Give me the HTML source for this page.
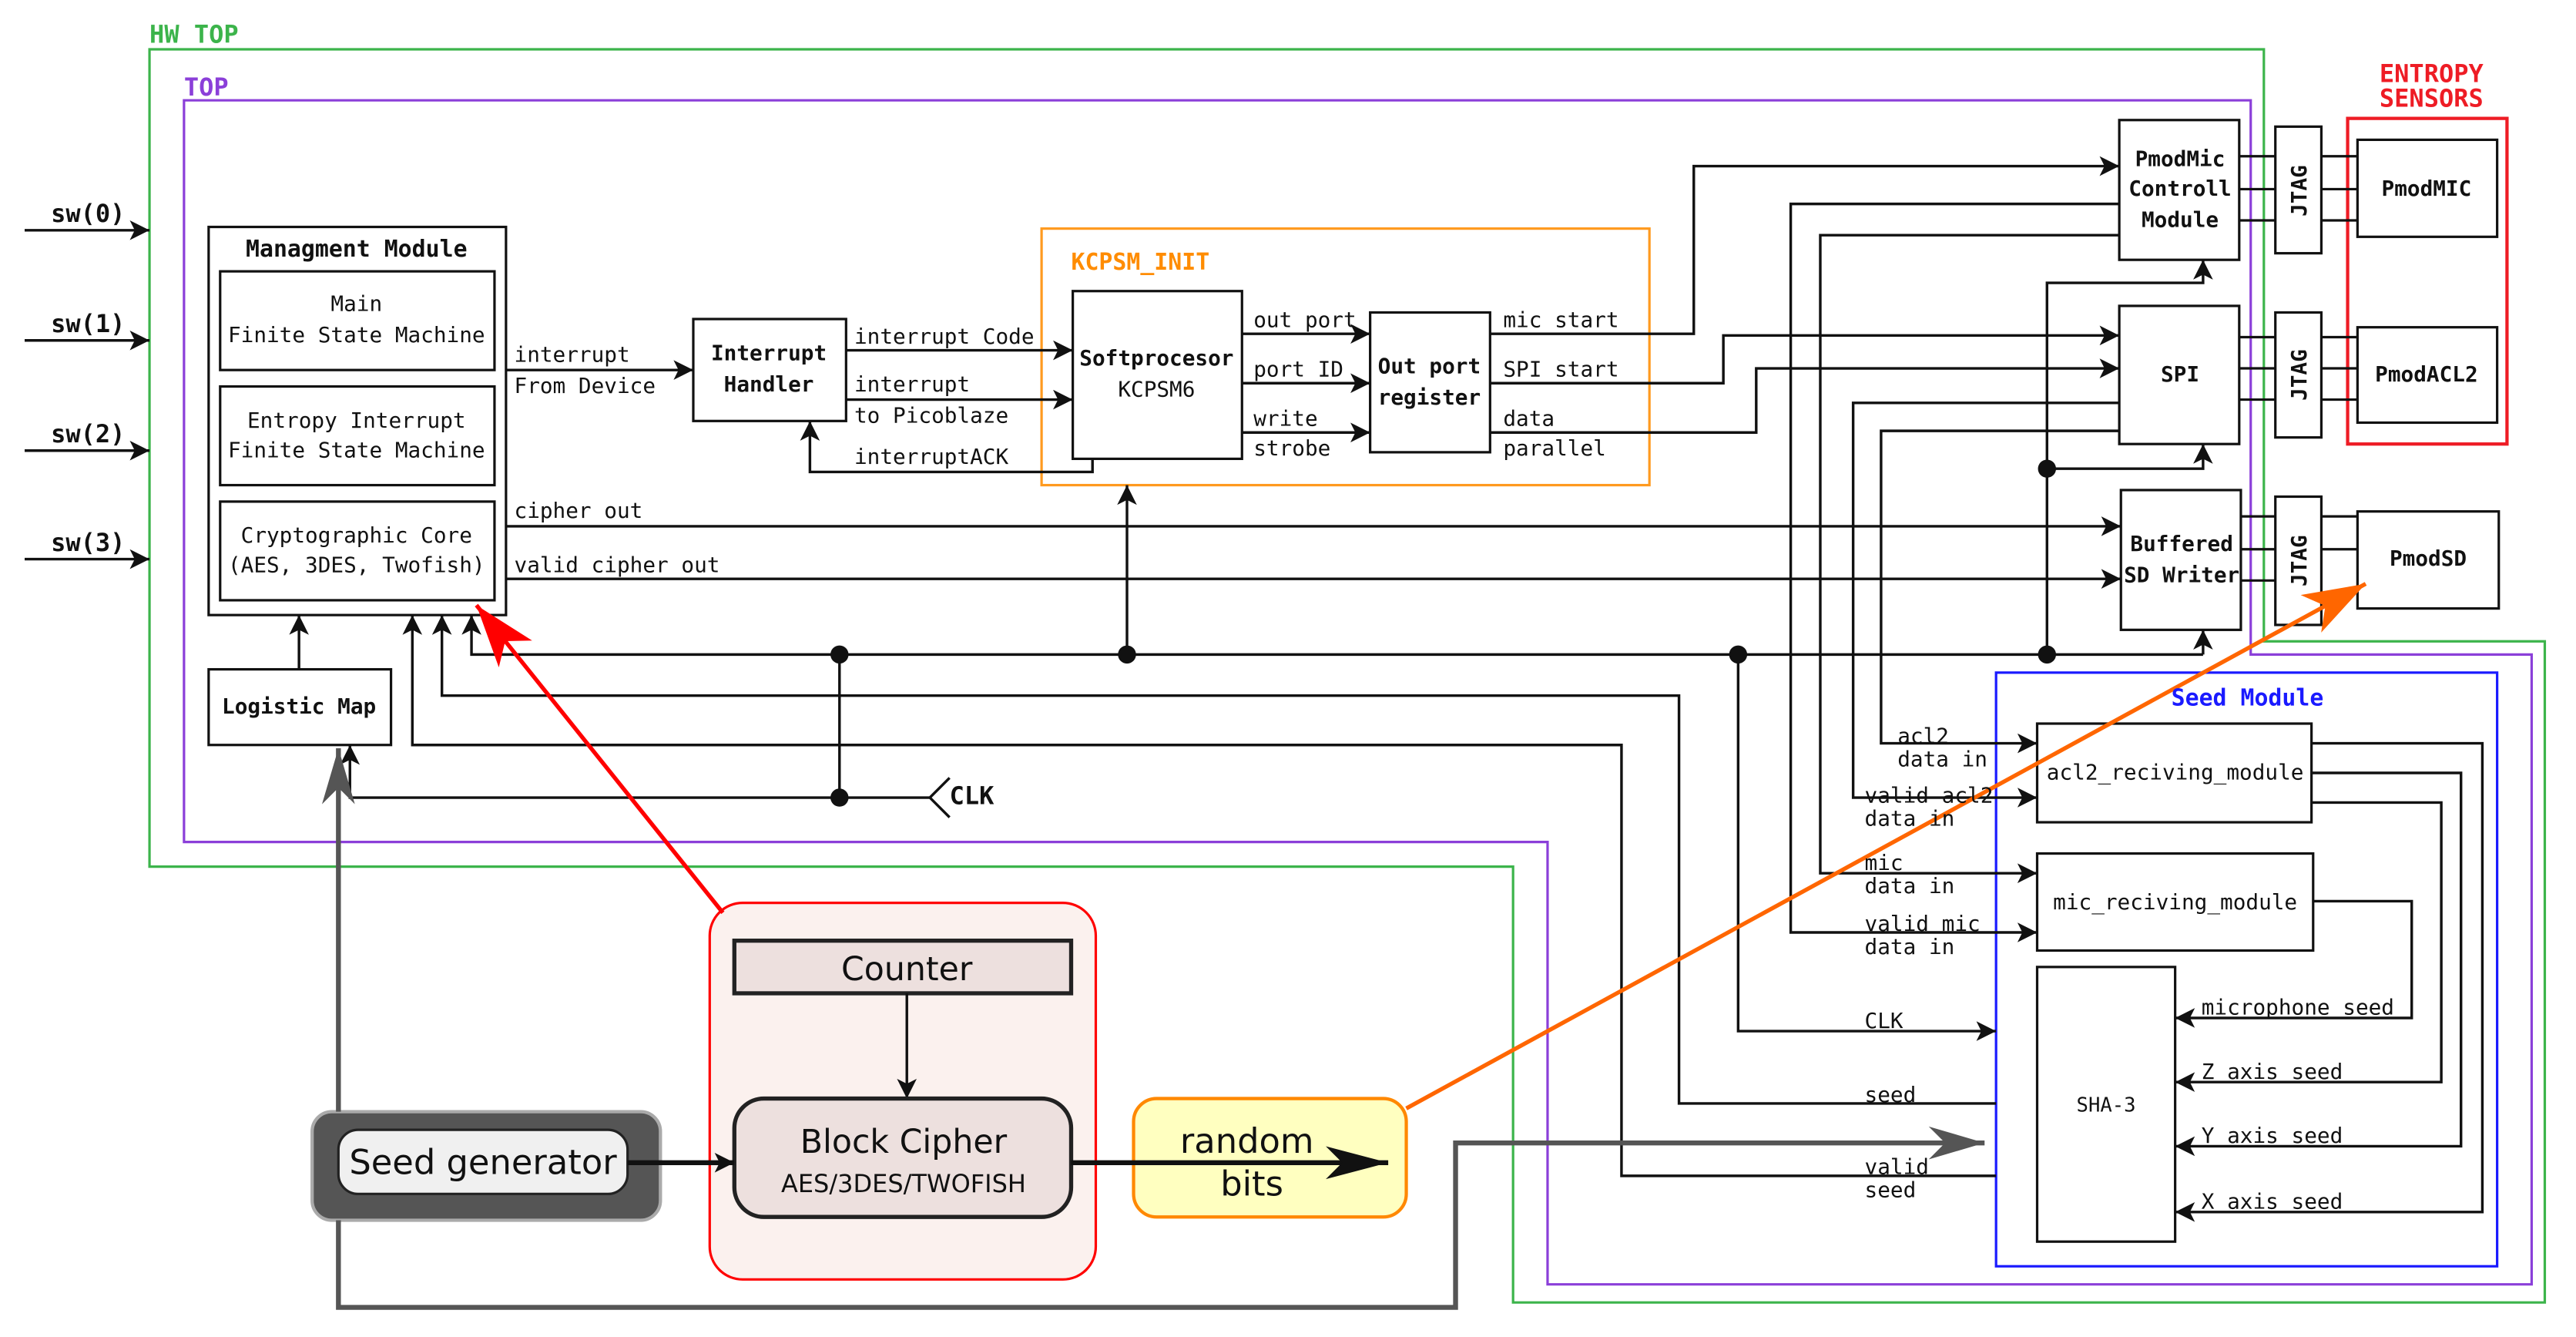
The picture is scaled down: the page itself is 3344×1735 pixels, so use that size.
<!DOCTYPE html>
<html><head><meta charset="utf-8"><style>html,body{margin:0;padding:0;background:#fff}svg{display:block}</style></head>
<body>
<svg width="3344" height="1735" viewBox="0 0 1568 813" preserveAspectRatio="none" xmlns="http://www.w3.org/2000/svg" font-family="DejaVu Sans Mono, Liberation Mono, monospace" font-size="13">
<defs>
<marker id="a" markerUnits="userSpaceOnUse" markerWidth="14" markerHeight="12" refX="12" refY="6" orient="auto"><path d="M0,0 L12,6 L0,12 L3,6 Z" fill="#111"/></marker>
<marker id="g" markerUnits="userSpaceOnUse" markerWidth="36" markerHeight="24" refX="34" refY="12" orient="auto"><path d="M0,2 L34,12 L0,22 L10,12 Z" fill="#555"/></marker>
<marker id="k" markerUnits="userSpaceOnUse" markerWidth="40" markerHeight="24" refX="38" refY="12" orient="auto"><path d="M0,2 L38,12 L0,22 L10,12 Z" fill="#111"/></marker>
<marker id="r" markerUnits="userSpaceOnUse" markerWidth="40" markerHeight="30" refX="38" refY="15" orient="auto"><path d="M0,2 L38,15 L0,28 L10,15 Z" fill="#f00"/></marker>
<marker id="o" markerUnits="userSpaceOnUse" markerWidth="40" markerHeight="30" refX="38" refY="15" orient="auto"><path d="M0,2 L38,15 L0,28 L10,15 Z" fill="#f60"/></marker>
</defs>
<g fill="none" stroke-width="1.5">
<path d="M91,30 H1378 V390 H1549 V792 H921 V527 H91 Z" stroke="#3cb44b"/>
<path d="M112,61 H1370 V398 H1541 V781 H942 V512 H112 Z" stroke="#8b3fd9"/>
<rect x="634" y="139" width="370" height="156" stroke="#ff9a1f"/>
<rect x="1429" y="72" width="97" height="198" stroke="#ee1c25" stroke-width="2"/>
<rect x="1215" y="409" width="305" height="361" stroke="#1a1aff"/>
</g>
<g fill="#fff" stroke="#111" stroke-width="1.5">
<rect x="127" y="138" width="181" height="236"/>
<rect x="134" y="165" width="167" height="60"/>
<rect x="134" y="235" width="167" height="60"/>
<rect x="134" y="305" width="167" height="60"/>
<rect x="127" y="407" width="111" height="46"/>
<rect x="422" y="194" width="93" height="62"/>
<rect x="653" y="177" width="103" height="102"/>
<rect x="834" y="190" width="73" height="85"/>
<rect x="1290" y="73" width="73" height="85"/>
<rect x="1290" y="186" width="73" height="84"/>
<rect x="1291" y="298" width="73" height="85"/>
<rect x="1385" y="77" width="28" height="77"/>
<rect x="1385" y="190" width="28" height="76"/>
<rect x="1385" y="302" width="28" height="78"/>
<rect x="1435" y="85" width="85" height="59"/>
<rect x="1435" y="199" width="85" height="58"/>
<rect x="1435" y="311" width="86" height="59"/>
<rect x="1240" y="440" width="167" height="60"/>
<rect x="1240" y="519" width="168" height="59"/>
<rect x="1240" y="588" width="84" height="167"/>
</g>
<g fill="none" stroke="#111" stroke-width="1.5">
<path d="M1363,95H1385M1363,115H1385M1363,134H1385M1413,95H1435M1413,115H1435M1413,134H1435"/>
<path d="M1363,205H1385M1363,224H1385M1363,243H1385M1413,205H1435M1413,224H1435M1413,243H1435"/>
<path d="M1364,314H1385M1364,334H1385M1364,353H1385M1413,314H1435M1413,334H1435"/>
</g>
<g fill="none" stroke="#111" stroke-width="1.6" marker-end="url(#a)">
<path d="M15,140H91"/><path d="M15,207H91"/><path d="M15,274H91"/><path d="M15,340H91"/>
<path d="M308,225H422"/>
<path d="M515,213H653"/><path d="M515,243H653"/>
<path d="M665,279V287H493V256"/>
<path d="M756,203H834"/><path d="M756,233H834"/><path d="M756,263H834"/>
<path d="M907,203H1031V101H1290"/>
<path d="M907,233H1049V204H1290"/>
<path d="M907,263H1069V224H1290"/>
<path d="M308,320H1291"/><path d="M308,352H1291"/>
<path d="M1341,398H287V374"/>
<path d="M1341,398V383"/>
<path d="M686,398V295"/>
<path d="M1246,398V172H1341V158"/>
<path d="M1246,285H1341V270"/>
<path d="M566,485H213V453"/>
<path d="M182,407V374"/>
<path d="M1215,671H1022V423H269V374"/>
<path d="M1215,715H987V453H251V374"/>
<path d="M1058,398V627H1215"/>
<path d="M1290,124H1090V567H1240"/>
<path d="M1290,143H1108V531H1240"/>
<path d="M1290,245H1128V485H1240"/>
<path d="M1290,262H1145V452H1240"/>
<path d="M1407,452H1511V737H1324"/>
<path d="M1407,470H1498V697H1324"/>
<path d="M1407,488H1486V658H1324"/>
<path d="M1408,548H1468V619H1324"/>
</g>
<path d="M511,398V485" stroke="#111" stroke-width="1.6"/>
<path d="M578,473L566,485L578,497" fill="none" stroke="#111" stroke-width="1.6"/>
<g fill="#111"><circle cx="511" cy="398" r="5.5"/><circle cx="686" cy="398" r="5.5"/><circle cx="1058" cy="398" r="5.5"/><circle cx="1246" cy="398" r="5.5"/><circle cx="1246" cy="285" r="5.5"/><circle cx="511" cy="485" r="5.5"/></g>
<rect x="432" y="549" width="235" height="229" rx="20" fill="#fbf1ee" stroke="#f00" stroke-width="1.5"/>
<rect x="447" y="572" width="205" height="32" fill="#ede0de" stroke="#222" stroke-width="2.5"/>
<path d="M552,604V668" stroke="#111" stroke-width="1.6" marker-end="url(#a)"/>
<rect x="447" y="668" width="205" height="72" rx="18" fill="#ede0de" stroke="#222" stroke-width="2.5"/>
<rect x="690" y="668" width="166" height="72" rx="14" fill="#ffffc0" stroke="#f80" stroke-width="2"/>
<rect x="190" y="676" width="212" height="66" rx="12" fill="#555" stroke="#aaa" stroke-width="2"/>
<rect x="206" y="687" width="176" height="39" rx="12" fill="#f0f0f0" stroke="#222" stroke-width="1.5"/>
<path d="M206,676V455" stroke="#555" stroke-width="3" fill="none" marker-end="url(#g)"/>
<path d="M206,742V795H886V695H1208" stroke="#555" stroke-width="3" fill="none" marker-end="url(#g)"/>
<path d="M382,707H447" stroke="#111" stroke-width="3" marker-end="url(#a)"/>
<path d="M652,707H845" stroke="#111" stroke-width="3" marker-end="url(#k)"/>
<path d="M440,555L290,368" stroke="#f00" stroke-width="2.5" marker-end="url(#r)"/>
<path d="M856,674L1440,355" stroke="#f60" stroke-width="2.5" marker-end="url(#o)"/>
<g fill="#3cb44b" font-size="15" font-weight="bold"><text x="91" y="26">HW TOP</text></g>
<g fill="#8b3fd9" font-size="15" font-weight="bold"><text x="112" y="58">TOP</text></g>
<text x="652" y="164" fill="#ff8c00" font-size="14" font-weight="bold">KCPSM_INIT</text>
<g fill="#ee1c25" font-size="15" font-weight="bold" text-anchor="middle"><text x="1480" y="50">ENTROPY</text><text x="1480" y="65">SENSORS</text></g>
<text x="1368" y="429" fill="#1a1aff" font-size="14" font-weight="bold" text-anchor="middle">Seed Module</text>
<g fill="#111" font-size="15" font-weight="bold"><text x="31" y="135">sw(0)</text><text x="31" y="202">sw(1)</text><text x="31" y="269">sw(2)</text><text x="31" y="335">sw(3)</text><text x="578" y="489">CLK</text></g>
<g fill="#111" text-anchor="middle" font-weight="bold">
<text x="217" y="156" font-size="14">Managment Module</text>
<text x="182" y="434">Logistic Map</text>
<text x="468" y="219">Interrupt</text><text x="468" y="238">Handler</text>
<text x="704" y="222">Softprocesor</text>
<text x="870" y="227">Out port</text><text x="870" y="246">register</text>
<text x="1327" y="101">PmodMic</text><text x="1327" y="119">Controll</text><text x="1327" y="138">Module</text>
<text x="1327" y="232">SPI</text>
<text x="1328" y="335">Buffered</text><text x="1328" y="354">SD Writer</text>
<text x="1477" y="119">PmodMIC</text><text x="1477" y="232">PmodACL2</text><text x="1478" y="344">PmodSD</text>
<text transform="translate(1404,116) rotate(-90)">JTAG</text>
<text transform="translate(1404,228) rotate(-90)">JTAG</text>
<text transform="translate(1404,341) rotate(-90)">JTAG</text>
</g>
<g fill="#111" text-anchor="middle">
<text x="217" y="189">Main</text><text x="217" y="208">Finite State Machine</text>
<text x="217" y="260">Entropy Interrupt</text><text x="217" y="278">Finite State Machine</text>
<text x="217" y="330">Cryptographic Core</text><text x="217" y="348">(AES, 3DES, Twofish)</text>
<text x="704" y="241">KCPSM6</text>
<text x="1324" y="474">acl2_reciving_module</text>
<text x="1324" y="553">mic_reciving_module</text>
<text x="1282" y="676" font-size="12">SHA-3</text>
</g>
<g fill="#111">
<text x="313" y="220">interrupt</text><text x="313" y="239">From Device</text>
<text x="520" y="209">interrupt Code</text><text x="520" y="238">interrupt</text><text x="520" y="257">to Picoblaze</text><text x="520" y="282">interruptACK</text>
<text x="763" y="199">out port</text><text x="763" y="229">port ID</text><text x="763" y="259">write</text><text x="763" y="277">strobe</text>
<text x="915" y="199">mic start</text><text x="915" y="229">SPI start</text><text x="915" y="259">data</text><text x="915" y="277">parallel</text>
<text x="313" y="315">cipher out</text><text x="313" y="348">valid cipher out</text>
<text x="1155" y="452">acl2</text><text x="1155" y="466">data in</text>
<text x="1135" y="488">valid acl2</text><text x="1135" y="502">data in</text>
<text x="1135" y="529">mic</text><text x="1135" y="543">data in</text>
<text x="1135" y="566">valid mic</text><text x="1135" y="580">data in</text>
<text x="1135" y="625">CLK</text><text x="1135" y="670">seed</text>
<text x="1135" y="714">valid</text><text x="1135" y="728">seed</text>
<text x="1340" y="617">microphone seed</text><text x="1340" y="656">Z axis seed</text><text x="1340" y="695">Y axis seed</text><text x="1340" y="735">X axis seed</text>
</g>
<g fill="#111" font-family="DejaVu Sans, Liberation Sans, sans-serif" text-anchor="middle">
<text x="552" y="596" font-size="20">Counter</text>
<text x="550" y="701" font-size="20">Block Cipher</text>
<text x="550" y="725" font-size="15">AES/3DES/TWOFISH</text>
<text x="759" y="701" font-size="21">random</text>
<text x="762" y="727" font-size="21">bits</text>
<text x="294" y="714" font-size="21">Seed generator</text>
</g>
</svg>
</body></html>
